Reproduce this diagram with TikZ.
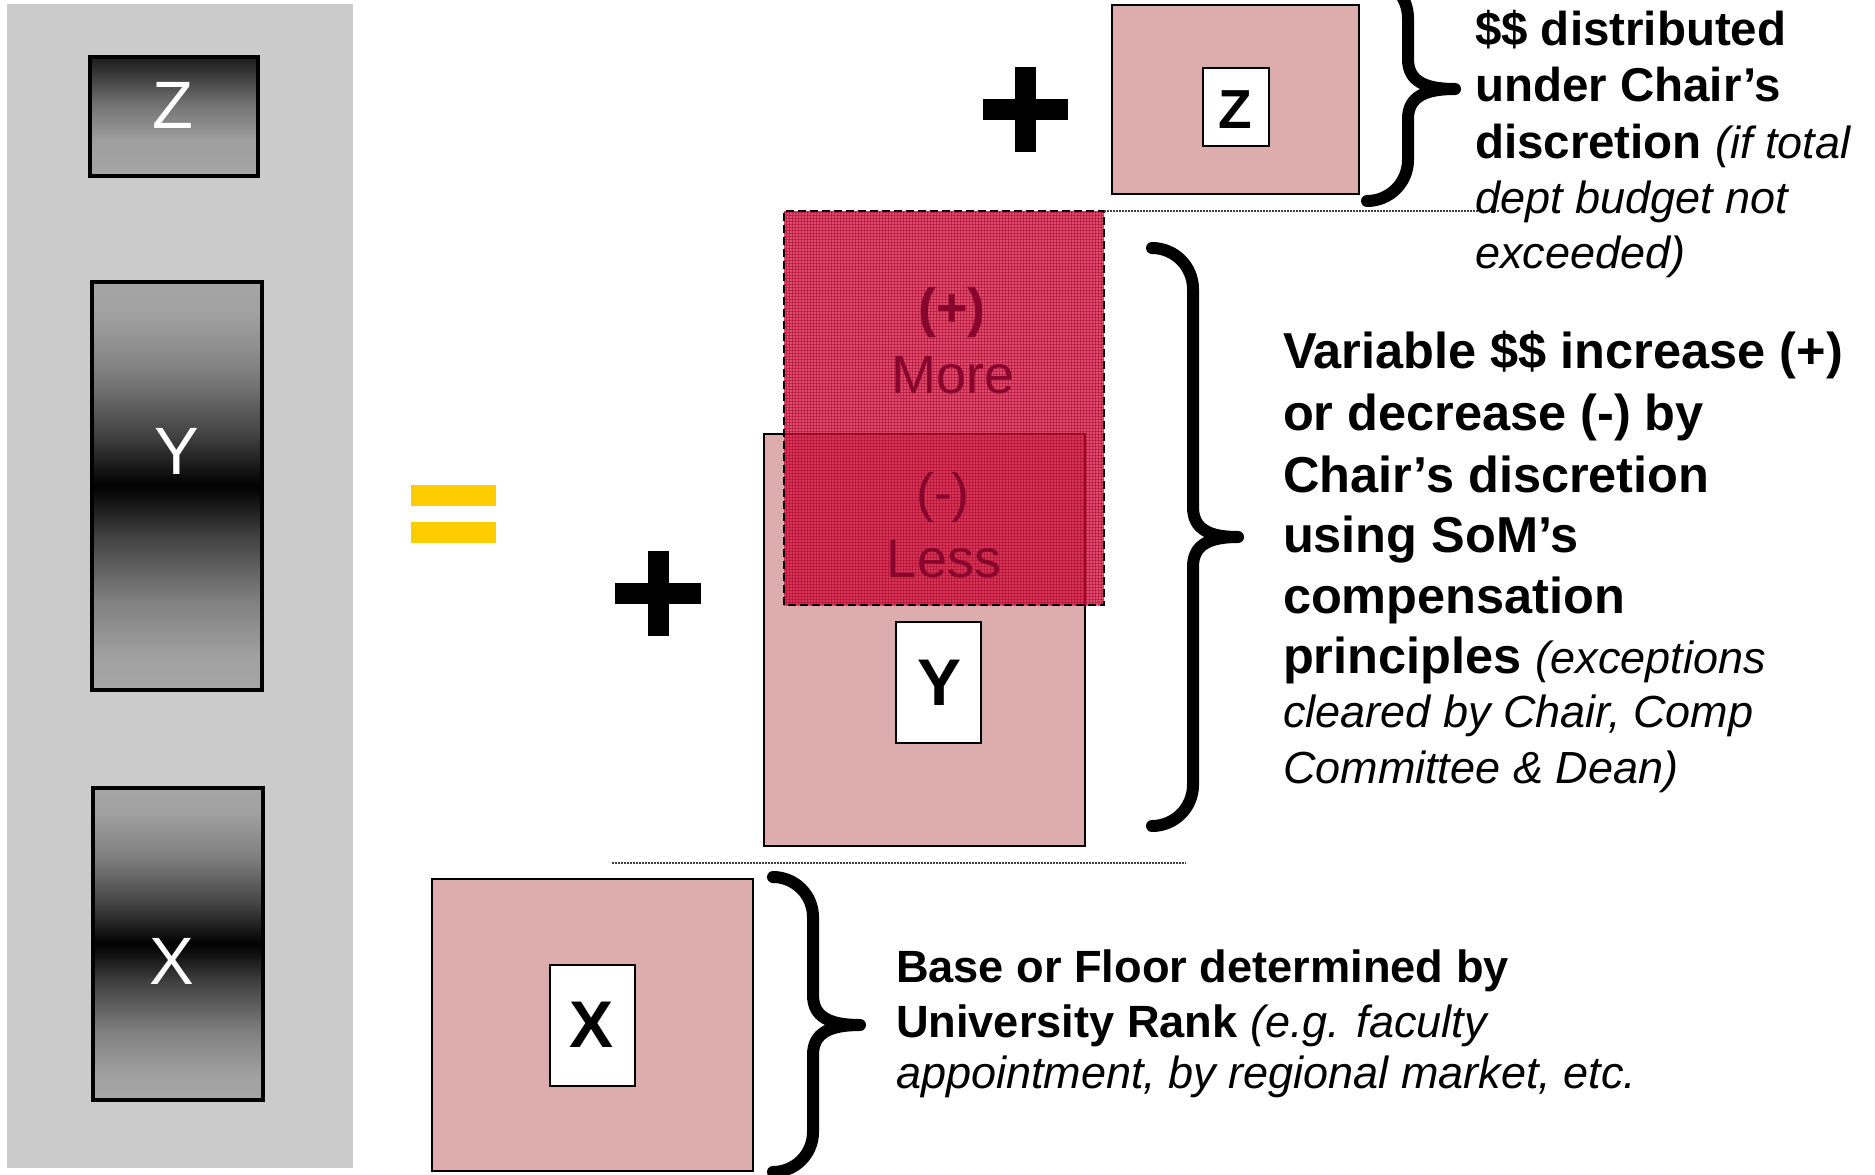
\documentclass[tikz,border=0pt]{standalone}
\usepackage{fontspec}
\setmainfont{Liberation Sans}
\usetikzlibrary{patterns}

\definecolor{panelgray}{RGB}{203,203,203}
\definecolor{boxpink}{RGB}{221,173,173}
\definecolor{eqyellow}{RGB}{255,204,0}
\definecolor{crimsonfill}{RGB}{208,12,58}
\definecolor{crimsongrid}{RGB}{170,0,40}
\definecolor{crimsontext}{RGB}{135,5,45}

% gray bars: dark band in the middle, light towards both ends
\pgfdeclareverticalshading{mirrorgray}{100bp}{%
  rgb(0bp)=(0.65,0.65,0.65); rgb(25bp)=(0.65,0.65,0.65);
  rgb(29bp)=(0.63,0.63,0.63); rgb(36bp)=(0.50,0.50,0.50);
  rgb(44bp)=(0.25,0.25,0.25); rgb(49bp)=(0.04,0.04,0.04);
  rgb(50bp)=(0.01,0.01,0.01);
  rgb(51bp)=(0.04,0.04,0.04); rgb(56bp)=(0.25,0.25,0.25);
  rgb(64bp)=(0.50,0.50,0.50); rgb(71bp)=(0.63,0.63,0.63);
  rgb(75bp)=(0.65,0.65,0.65); rgb(100bp)=(0.65,0.65,0.65)}
% small top bar: dark at the top, light at the bottom
\pgfdeclareverticalshading{topdark}{100bp}{%
  rgb(0bp)=(0.65,0.65,0.65); rgb(25bp)=(0.65,0.65,0.65);
  rgb(40bp)=(0.62,0.62,0.62); rgb(55bp)=(0.45,0.45,0.45);
  rgb(68bp)=(0.22,0.22,0.22); rgb(75bp)=(0.11,0.11,0.11);
  rgb(100bp)=(0.11,0.11,0.11)}

% curly brace: end x, spine x, tip x, top y, tip y, bottom y
\newcommand\drawbrace[6]{%
  \draw[bracestroke] (#1,#4)
    .. controls ({#2-0.448*(#2-#1)},#4) and (#2,{#4+0.448*(#2-#1)}) .. (#2,{#4+(#2-#1)})
    -- (#2,{#5-30})
    .. controls (#2,{#5-8}) and ({#2+0.35*(#3-#2)},#5) .. (#3,#5)
    .. controls ({#2+0.35*(#3-#2)},#5) and (#2,{#5+8}) .. (#2,{#5+30})
    -- (#2,{#6-(#2-#1)})
    .. controls (#2,{#6-0.448*(#2-#1)}) and ({#2-0.448*(#2-#1)},#6) .. (#1,#6);}

\tikzset{
  every node/.style={inner sep=0pt, outer sep=0pt},
  grayblock/.style={draw=black, line width=3.5pt, shade, shading=mirrorgray},
  pinkblock/.style={fill=boxpink, draw=black, line width=2pt},
  whitetag/.style={fill=white, draw=black, line width=2pt},
  greyletter/.style={anchor=base, text=white, font=\fontsize{67}{67}\selectfont},
  tagletter/.style={anchor=base, text=black, font=\fontsize{66}{66}\selectfont\bfseries},
  redletter/.style={anchor=base, text=crimsontext, font=\fontsize{54}{54}\selectfont},
  eqbar/.style={fill=eqyellow},
  plusbar/.style={fill=black},
  bracestroke/.style={draw=black, line width=12pt, line cap=round, line join=round},
  dotline/.style={draw=black!75, line width=1.2pt, dash pattern=on 1.5pt off 1.5pt},
  redzone/.style={fill=crimsonfill, fill opacity=0.74},
  redrim/.style={draw=black, line width=2.5pt, dash pattern=on 8pt off 4pt},
  txt/.style={anchor=base west, text=black},
  bigbold/.style={font=\fontsize{50.5}{60}\selectfont\bfseries},
  midbold/.style={font=\fontsize{47.5}{56}\selectfont\bfseries},
  smallbold/.style={font=\fontsize{45.2}{54}\selectfont\bfseries},
  slanted/.style={font=\fontsize{45}{54}\selectfont\itshape},
}

\begin{document}
\begin{tikzpicture}[x=1pt, y=-1pt]
\useasboundingbox (0,0) rectangle (1875,1175);
\fill[white] (0,0) rectangle (1875,1175);

% left panel with the three shaded bars
\fill[panelgray] (7,4) rectangle (353,1168);
\node[draw=black, line width=3.5pt, shade, shading=topdark,
      minimum width=168pt, minimum height=119pt] (zbar) at (174,116.5) {};
\node[grayblock, minimum width=170pt, minimum height=408pt] (ybar) at (177,486) {};
\node[grayblock, minimum width=170pt, minimum height=312pt] (xbar) at (178,944) {};
\node[greyletter] (zbarlbl) at (173,128) {Z};
\node[greyletter] (ybarlbl) at (177,474) {Y};
\node[greyletter] (xbarlbl) at (172,984) {X};

% equals sign
\fill[eqbar] (411,485) rectangle (496,506);
\fill[eqbar] (411,522) rectangle (496,543);

% plus signs
\fill[plusbar] (648,551) rectangle (669,636);
\fill[plusbar] (615,583) rectangle (701,604);
\fill[plusbar] (1015,67) rectangle (1036,152);
\fill[plusbar] (983,99) rectangle (1068,120);

% base block X
\node[pinkblock, minimum width=321pt, minimum height=292pt] (xblock) at (592.5,1025) {};
\node[whitetag, minimum width=85pt, minimum height=121pt] (xtag) at (592.5,1025.5) {};
\node[tagletter] (xtaglbl) at (592,1047) {X};

% variable block Y
\node[pinkblock, minimum width=321pt, minimum height=412pt] (yblock) at (924.5,640) {};
\node[whitetag, minimum width=85pt, minimum height=121pt] (ytag) at (938.5,682.5) {};
\node[tagletter] (ytaglbl) at (940,705) {Y};

% more / less zone
\node[redzone, minimum width=320pt, minimum height=394pt] (redbox) at (944,408) {};
\fill[pattern=grid, pattern color=crimsongrid, opacity=0.45]
  (redbox.south west) rectangle (redbox.north east);
\draw[redrim] (redbox.south west) rectangle (redbox.north east);
\node[redletter, font=\fontsize{54}{54}\selectfont\bfseries] (pluslbl) at (952,326) {(+)};
\node[redletter] (morelbl) at (953,393) {More};
\node[redletter] (minuslbl) at (943,511) {(-)};
\node[redletter] (lesslbl) at (944,577) {Less};

% discretionary block Z
\node[pinkblock, minimum width=247pt, minimum height=189pt] (zblock) at (1235.5,99.5) {};
\node[whitetag, minimum width=66pt, minimum height=78pt] (ztag) at (1236,107) {};
\node[tagletter, font=\fontsize{55}{55}\selectfont\bfseries] (ztaglbl) at (1235,128) {Z};

% dotted guide lines
\coordinate (zguideend) at (1500,211);
\draw[dotline] (redbox.north east) -- (zguideend);
\coordinate (yguidestart) at (612,863);
\coordinate (yguideend) at (1186,863);
\draw[dotline] (yguidestart) -- (yguideend);

% braces
\drawbrace{1367}{1408}{1455}{-23}{89}{201}
\drawbrace{1152}{1193}{1238}{248}{537}{826}
\drawbrace{773}{813}{860}{877}{1025}{1172}

% text for Z
\node[txt, midbold] (zt1) at (1475,45) {\$\$ distributed};
\node[txt, midbold] (zt2) at (1475,101) {under Chair’s};
\node[txt, midbold] (zt3) at (1475,158) {discretion {\fontsize{45}{54}\selectfont\mdseries\itshape (if total}};
\node[txt, slanted] (zt4) at (1475,213) {dept budget not};
\node[txt, slanted] (zt5) at (1475,268) {exceeded)};

% text for Y
\node[txt, bigbold] (yt1) at (1283,368) {Variable \$\$ increase (+)};
\node[txt, bigbold] (yt2) at (1283,430) {or decrease (-) by};
\node[txt, bigbold] (yt3) at (1283,492) {Chair’s discretion};
\node[txt, bigbold] (yt4) at (1283,552) {using SoM’s};
\node[txt, bigbold] (yt5) at (1283,613) {compensation};
\node[txt, bigbold] (yt6) at (1283,673) {principles {\fontsize{45}{54}\selectfont\mdseries\itshape (exceptions}};
\node[txt, slanted] (yt7) at (1283,727) {cleared by Chair, Comp};
\node[txt, slanted] (yt8) at (1283,783) {Committee \& Dean)};

% text for X
\node[txt, smallbold] (xt1) at (896,982) {Base or Floor determined by};
\node[txt, smallbold] (xt2) at (896,1037) {University Rank {\fontsize{45}{54}\selectfont\mdseries\itshape (e.g. faculty}};
\node[txt, slanted] (xt3) at (896,1088) {appointment, by regional market, etc.};
\end{tikzpicture}
\end{document}
